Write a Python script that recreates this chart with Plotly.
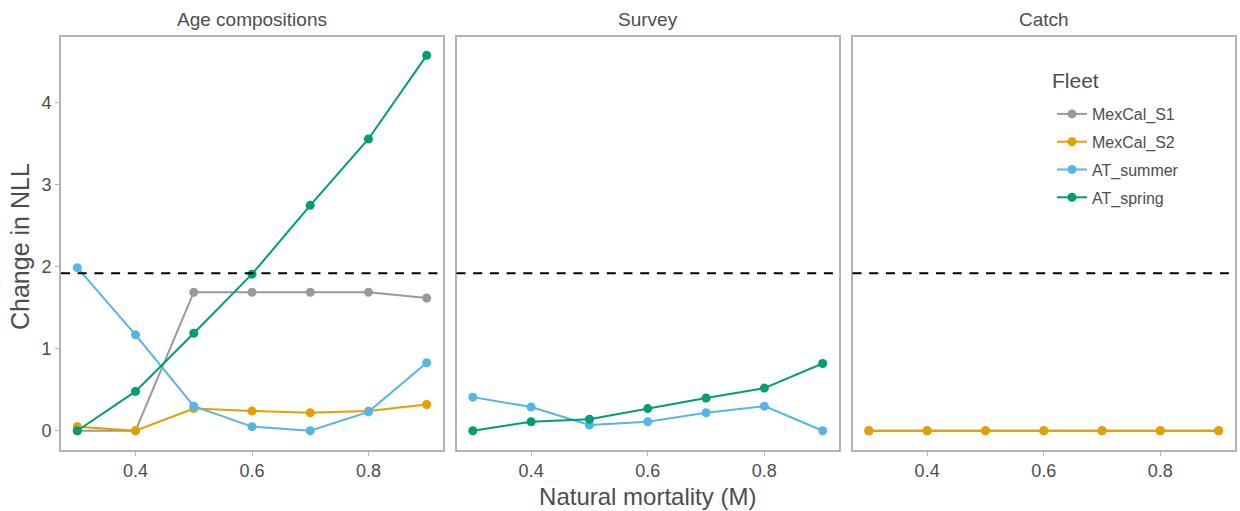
import plotly.graph_objects as go

# ---- data ----
M = [0.3, 0.4, 0.5, 0.6, 0.7, 0.8, 0.9]
panels = ["Age compositions", "Survey", "Catch"]
fleets = ["MexCal_S1", "MexCal_S2", "AT_summer", "AT_spring"]
fleet_colors = ["#999999", "#E69F00", "#56B4E9", "#009E73"]

age_mexcal_s1 = [0.00, 0.00, 1.69, 1.69, 1.69, 1.69, 1.62]
age_mexcal_s2 = [0.05, 0.00, 0.27, 0.24, 0.22, 0.24, 0.32]
age_at_summer = [1.99, 1.17, 0.30, 0.05, 0.00, 0.23, 0.83]
age_at_spring = [0.00, 0.48, 1.19, 1.91, 2.75, 3.56, 4.58]

survey_at_summer = [0.41, 0.29, 0.07, 0.11, 0.22, 0.30, 0.00]
survey_at_spring = [0.00, 0.11, 0.14, 0.27, 0.40, 0.52, 0.82]

catch_mexcal_s1 = [0.00, 0.00, 0.00, 0.00, 0.00, 0.00, 0.00]
catch_mexcal_s2 = [0.00, 0.00, 0.00, 0.00, 0.00, 0.00, 0.00]

threshold = 1.92
x_ticks = [0.4, 0.6, 0.8]
y_ticks = [0, 1, 2, 3, 4]

panel_series = {
    "Age compositions": {"MexCal_S1": age_mexcal_s1, "MexCal_S2": age_mexcal_s2,
                         "AT_summer": age_at_summer, "AT_spring": age_at_spring},
    "Survey": {"AT_summer": survey_at_summer, "AT_spring": survey_at_spring},
    "Catch": {"MexCal_S1": catch_mexcal_s1, "MexCal_S2": catch_mexcal_s2},
}

W, H = 1240, 511
# panel pixel extents
px_left = [61, 456.5, 852.5]
px_right = [443, 839, 1235]
py_top, py_bot = 36.5, 449.5

FONT = "Liberation Sans, Arial, sans-serif"
TXT = "#4d4d4d"

fig = go.Figure()
shown = set()
for pi, pname in enumerate(panels):
    xa = "x" if pi == 0 else f"x{pi+1}"
    for fi, fname in enumerate(fleets):
        if fname not in panel_series[pname]:
            continue
        vals = panel_series[pname][fname]
        fig.add_trace(go.Scatter(
            x=M, y=vals, mode="lines+markers", name=fname,
            legendgroup=fname, showlegend=fname not in shown, legendrank=fi + 1,
            line=dict(color=fleet_colors[fi], width=2),
            marker=dict(color=fleet_colors[fi], size=9),
            xaxis=xa, yaxis="y" if pi == 0 else f"y{pi+1}",
        ))
        shown.add(fname)

axis_common = dict(
    showgrid=False, zeroline=False, showline=True, mirror=True,
    linecolor="#b3b3b3", linewidth=2,
    ticks="outside", ticklen=4, tickcolor="#b3b3b3", tickwidth=1,
    tickfont=dict(family=FONT, size=18, color=TXT),
)

layout = dict(
    width=W, height=H, margin=dict(l=0, r=0, t=0, b=0),
    plot_bgcolor="white", paper_bgcolor="white",
    font=dict(family=FONT, color=TXT),
    shapes=[], annotations=[],
)
ydom = [1 - py_bot / H, 1 - py_top / H]
for pi in range(3):
    sx = "" if pi == 0 else str(pi + 1)
    layout[f"xaxis{sx}"] = dict(
        axis_common, domain=[px_left[pi] / W, px_right[pi] / W],
        range=[0.272, 0.928], tickvals=x_ticks, ticktext=[f"{v:.1f}" for v in x_ticks],
        anchor=f"y{sx}",
    )
    ydict = dict(axis_common, domain=ydom, range=[-0.229, 4.81], tickvals=y_ticks,
                 anchor=f"x{sx}")
    if pi > 0:
        ydict.update(showticklabels=False, ticks="", matches="y")
    layout[f"yaxis{sx}"] = ydict
    layout["shapes"].append(dict(
        type="line", xref=f"x{sx} domain", yref=f"y{sx}", x0=0, x1=1,
        y0=threshold, y1=threshold, line=dict(color="black", width=2, dash="9px,7.7px"),
    ))
    layout["annotations"].append(dict(
        text=panels[pi], xref="paper", yref="paper",
        x=(px_left[pi] + px_right[pi]) / 2 / W, y=1 - 19 / H,
        xanchor="center", yanchor="middle", showarrow=False,
        font=dict(size=19, color=TXT),
    ))

layout["xaxis2"]["title"] = dict(text="Natural mortality (M)",
                                 font=dict(size=24, color=TXT), standoff=8)
layout["annotations"].append(dict(
    text="Change in NLL", xref="paper", yref="paper", x=20 / W, y=1 - 247 / H,
    xanchor="center", yanchor="middle", textangle=-90, showarrow=False,
    font=dict(size=25, color=TXT),
))
# legend title
layout["annotations"].append(dict(
    text="Fleet", xref="paper", yref="paper", x=1050 / W, y=1 - 80 / H,
    xanchor="left", yanchor="middle", showarrow=False,
    font=dict(size=21, color=TXT),
))
layout["legend"] = dict(
    x=1052 / W, y=1 - 97 / H, xanchor="left", yanchor="top",
    bgcolor="rgba(255,255,255,0)",
    font=dict(size=16, color=TXT), tracegroupgap=4, itemwidth=30,
)
fig.update_layout(**layout)
fig.write_html("out.html")
